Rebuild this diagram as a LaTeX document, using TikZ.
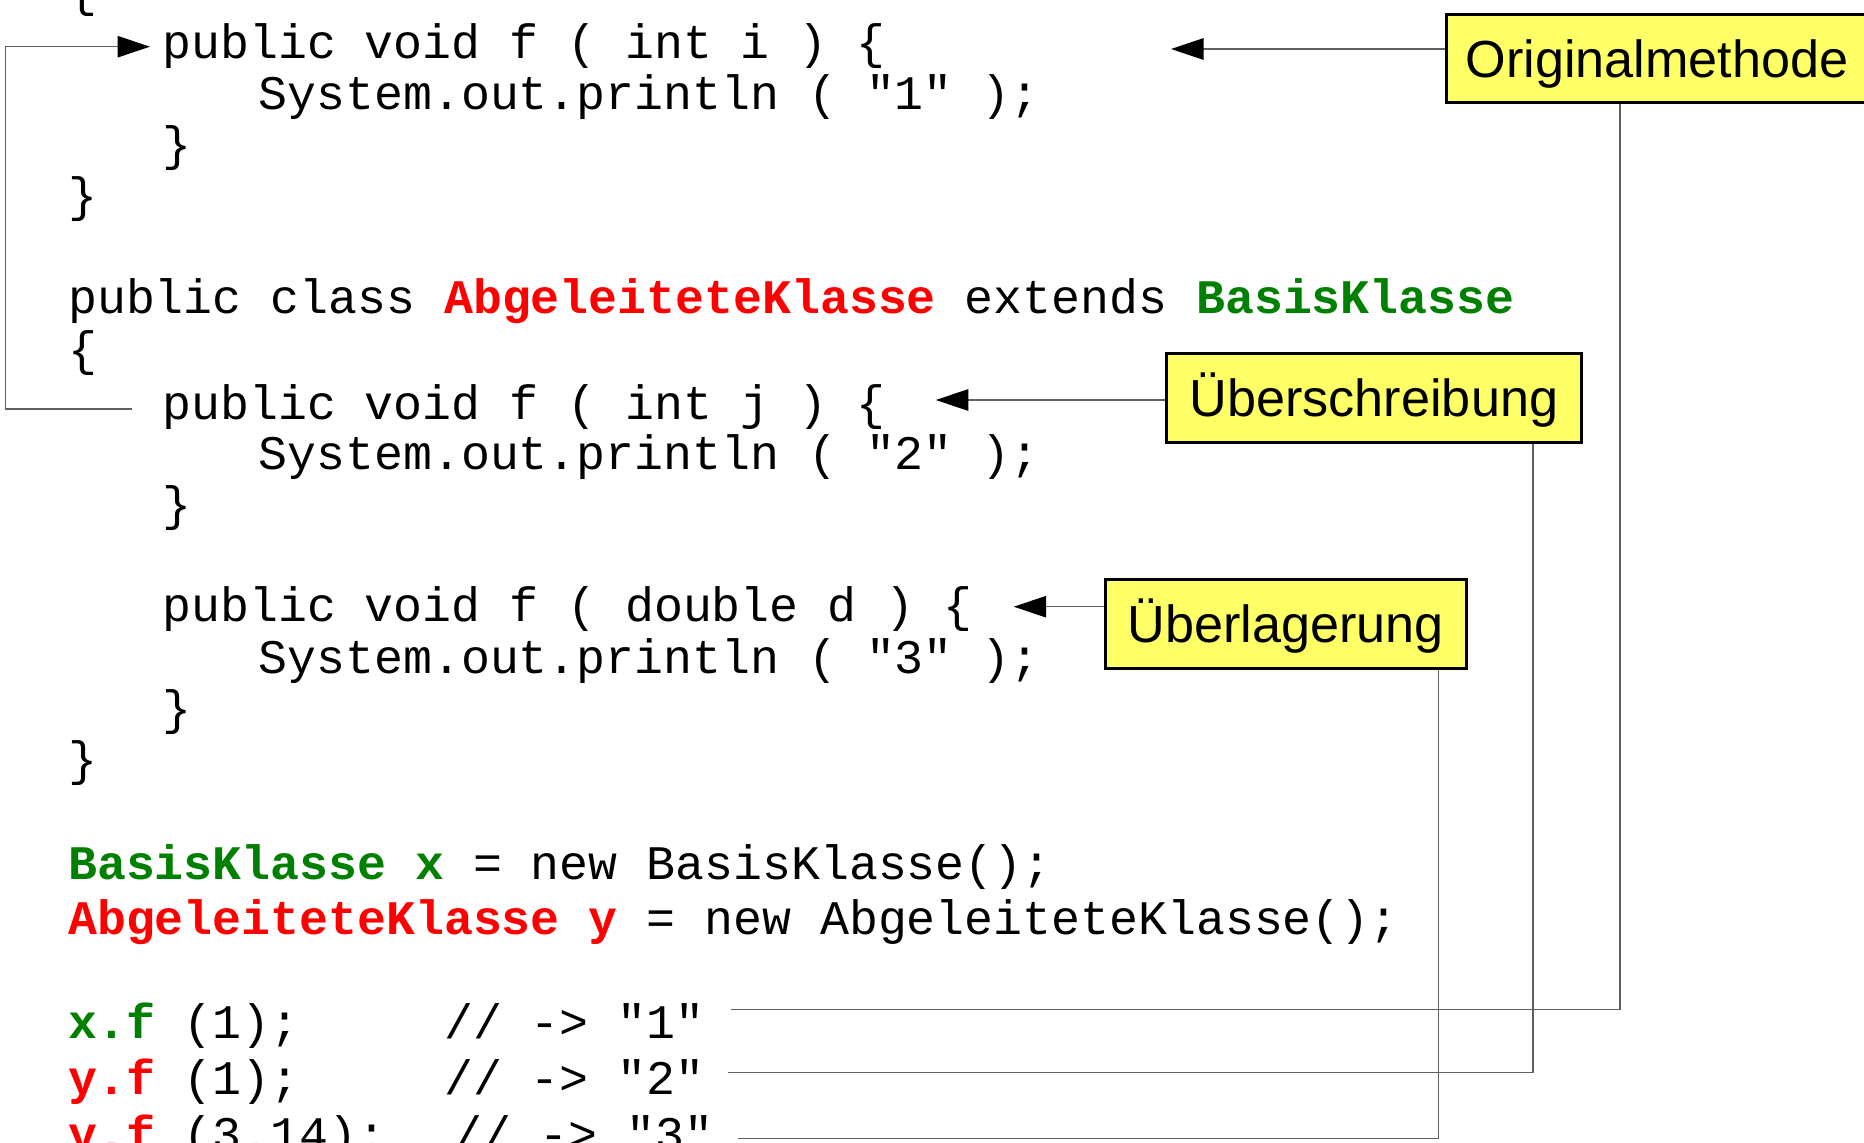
\documentclass[tikz,border=0pt]{standalone}
\usepackage{fontspec}
\usetikzlibrary{arrows.meta}
\newfontfamily\codefont{Liberation Mono}
\newfontfamily\labelfont{Liberation Sans}
\definecolor{kwred}{RGB}{255,0,0}
\definecolor{kwgreen}{RGB}{0,128,0}
\definecolor{notefill}{RGB}{255,255,102}
\definecolor{wirecol}{RGB}{95,95,95}
\newcommand\derivcls[1]{\textcolor{kwred}{\bfseries #1}}
\newcommand\basecls[1]{\textcolor{kwgreen}{\bfseries #1}}

\begin{document}
\begin{tikzpicture}[x=1pt,y=-1pt,
  code/.style={font=\codefont\fontsize{48.2}{51}\selectfont, anchor=base west, inner sep=0pt},
  note/.style={draw, line width=3pt, fill=notefill,
    font=\labelfont\fontsize{52.2}{60}\selectfont,
    inner sep=0pt, text height=37.4pt, text depth=0pt},
  wire/.style={draw=wirecol, line width=1.5pt},
  pointer/.style={-{Triangle[length=32.5pt,width=21.4pt,color=black]}}
]
\useasboundingbox (0,0) rectangle (1864,1143);
\clip (0,0) rectangle (1864,1143);
\fill[white] (0,0) rectangle (1864,1143);

% base class (its opening brace runs off the top)
\node[code] (l0)  at (68,6)      {\{};
\node[code] (l1)  at (162.3,58.5)  {public void f ( int i ) \{};
\node[code] (l2)  at (258.5,109.5) {System.out.println ( "1" );};
\node[code] (l3)  at (162.3,160.5) {\}};
\node[code] (l4)  at (68,211.5)    {\}};

% derived class
\node[code] (l6)  at (68,313.5)  {public class \derivcls{AbgeleiteteKlasse} extends \basecls{BasisKlasse}};
\node[code] (l7)  at (68,365)    {\{};
\node[code] (l8)  at (162.3,419) {public void f ( int j ) \{};
\node[code] (l9)  at (258.5,469.5) {System.out.println ( "2" );};
\node[code] (l10) at (162.3,520.5) {\}};
\node[code] (l12) at (162.3,621.5) {public void f ( double d ) \{};
\node[code] (l13) at (258.5,673)   {System.out.println ( "3" );};
\node[code] (l14) at (162.3,724)   {\}};
\node[code] (l15) at (68,775)      {\}};

% usage
\node[code] (l16) at (68,879.3) {\basecls{BasisKlasse x} = new BasisKlasse();};
\node[code] (l17) at (68,934)   {\derivcls{AbgeleiteteKlasse y} = new AbgeleiteteKlasse();};
\node[code] (l18) at (68,1038.5) {\basecls{x.f} (1);\ \ \ \ \ // -> "1"};
\node[code] (l19) at (68,1094)   {\derivcls{y.f} (1);\ \ \ \ \ // -> "2"};
\node[code] (l20) at (68,1150)   {\derivcls{y.f} (3.14);\ \ \kern9pt// -> "3"};

% notes
\node[note, minimum width=421pt, minimum height=88pt] (orig) at (1657,58.8) {Originalmethode};
\node[note, minimum width=415.2pt, minimum height=88.5pt] (ueber) at (1373.9,397.75) {Überschreibung};
\node[note, minimum width=360.5pt, minimum height=88.5pt] (ueberl) at (1285.75,623.75) {Überlagerung};

% connector end points
\coordinate (origTip)  at (1171,49);
\coordinate (origBend) at (1620,1009.3);
\coordinate (origEnd)  at (730.5,1009.3);
\coordinate (ueTip)    at (935.8,400);
\coordinate (ueBend)   at (1533,1072.7);
\coordinate (ueEnd)    at (728.2,1072.7);
\coordinate (ulTip)    at (1013.7,606.7);
\coordinate (ulBend)   at (1438.5,1138.5);
\coordinate (ulEnd)    at (738,1138.5);
\coordinate (loopStart)  at (132.3,409);
\coordinate (loopCorner) at (5.6,46.7);
\coordinate (loopTip)    at (150,46.7);

% notes point at the methods and down to the calls
\draw[wire,pointer] (orig.west |- origTip) -- (origTip);
\draw[wire] (orig.south -| origBend) -- (origBend) -- (origEnd);
\draw[wire,pointer] (ueber.west |- ueTip) -- (ueTip);
\draw[wire] (ueber.south -| ueBend) -- (ueBend) -- (ueEnd);
\draw[wire,pointer] (ueberl.west |- ulTip) -- (ulTip);
\draw[wire] (ueberl.south -| ulBend) -- (ulBend) -- (ulEnd);

% overriding method refers back to the original
\draw[wire,pointer] (loopStart) -| (loopCorner) -- (loopTip);
\end{tikzpicture}
\end{document}
